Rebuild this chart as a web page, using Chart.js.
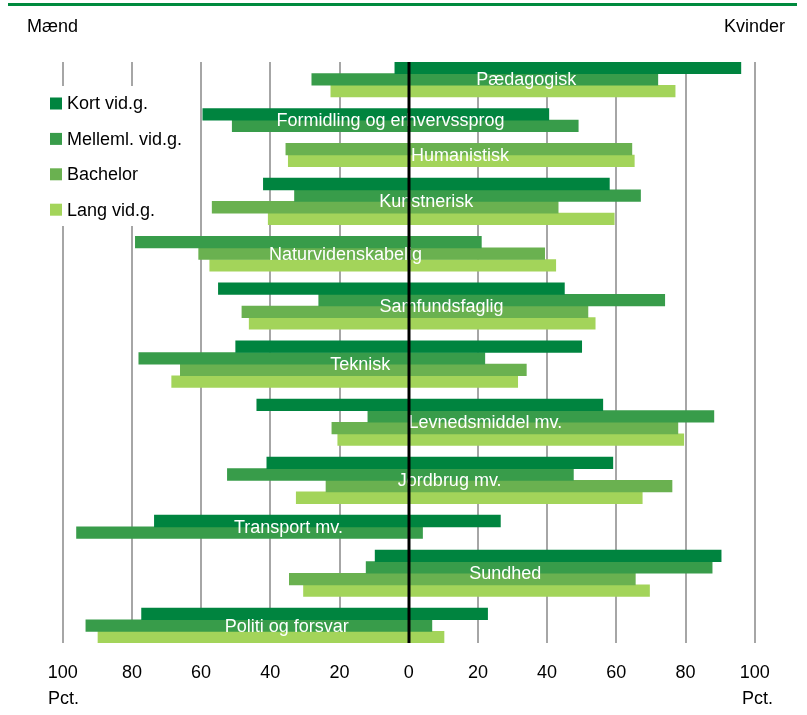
<!DOCTYPE html>
<html lang="da">
<head>
<meta charset="utf-8">
<title>Mænd og kvinder på uddannelsesområder</title>
<script src="https://cdn.jsdelivr.net/npm/chart.js@4.4.1/dist/chart.umd.min.js"></script>
<style>
  html, body { margin: 0; padding: 0; background: #fff; }
  #boks { position: relative; width: 807px; height: 715px; }
</style>
</head>
<body>
<div id="boks"><canvas id="koensChart"></canvas></div>
<script>
// Uddannelsesområder, oppefra og ned
const omraader = ['Pædagogisk', 'Formidling og erhvervssprog', 'Humanistisk', 'Kunstnerisk',
    'Naturvidenskabelig', 'Samfundsfaglig', 'Teknisk', 'Levnedsmiddel mv.', 'Jordbrug mv.',
    'Transport mv.', 'Sundhed', 'Politi og forsvar'];

const niveauer = ['Kort vid.g.', 'Melleml. vid.g.', 'Bachelor', 'Lang vid.g.'];
const farver = ['#00843f', '#389c4a', '#6ab150', '#a3d45a'];

// Andel mænd / kvinder i pct. (null = ingen uddannelse på det niveau)
const kortMaend     = [4, 59.5, null, 42, null, 55, 50, 43.9, 41, 73.5, 9.7, 77.2];
const kortKvinder   = [96, 40.5, null, 58, null, 45, 50, 56.1, 59, 26.5, 90.3, 22.8];
const mellemMaend   = [28, 51, null, 33, 79, 26, 78, 11.8, 52.4, 96, 12.3, 93.3];
const mellemKvinder = [72, 49, null, 67, 21, 74, 22, 88.2, 47.6, 4, 87.7, 6.7];
const bachMaend     = [null, null, 35.5, 56.8, 60.7, 48.2, 66, 22.2, 23.9, null, 34.5, null];
const bachKvinder   = [null, null, 64.5, 43.2, 39.3, 51.8, 34, 77.8, 76.1, null, 65.5, null];
const langMaend     = [22.5, null, 34.8, 40.6, 57.5, 46.1, 68.5, 20.5, 32.5, null, 30.4, 89.8];
const langKvinder   = [77, null, 65.2, 59.4, 42.5, 53.9, 31.5, 79.5, 67.5, null, 69.6, 10.2];

const maend = [kortMaend, mellemMaend, bachMaend, langMaend];
const kvinder = [kortKvinder, mellemKvinder, bachKvinder, langKvinder];

// én række pr. søjle, og en tom række mellem områderne
const raekker = [];
omraader.forEach((omr, i) => {
    niveauer.forEach((n, j) => {
        if (maend[j][i] != null) raekker.push({ omr: i, niveau: j });
    });
    if (i < omraader.length - 1) raekker.push({ omr: i, niveau: -1 });
});

const datasets = niveauer.map((n, j) => ({
    label: n,
    data: raekker.map(r => r.niveau === j ? [-maend[j][r.omr], kvinder[j][r.omr]] : null),
    backgroundColor: farver[j],
    borderWidth: 0,
    grouped: false,
    barPercentage: 1,
    categoryPercentage: 1
}));

const skrift = '"Liberation Sans", Arial, sans-serif';

// Tekster, nul-linje og forklaring tegnes oven på søjlerne
const pynt = {
    id: 'pynt',
    afterDatasetsDraw(chart) {
        const ctx = chart.ctx;
        const x = chart.scales.x, y = chart.scales.y;
        const area = chart.chartArea;
        ctx.save();

        // områdenavne midt i hver gruppe
        ctx.font = '18px ' + skrift;
        ctx.fillStyle = '#fff';
        ctx.textAlign = 'center';
        ctx.textBaseline = 'middle';
        omraader.forEach((omr, i) => {
            let lo = 0, hi = 0;
            const idx = [];
            raekker.forEach((r, k) => {
                if (r.omr === i && r.niveau >= 0) {
                    idx.push(k);
                    lo = Math.min(lo, -maend[r.niveau][i]);
                    hi = Math.max(hi, kvinder[r.niveau][i]);
                }
            });
            const cx = x.getPixelForValue((lo + hi) / 2);
            const cy = (y.getPixelForValue(idx[0]) + y.getPixelForValue(idx[idx.length - 1])) / 2;
            ctx.fillText(omr, cx, cy + 1);
        });

        // nul-linjen
        const x0 = Math.round(x.getPixelForValue(0));
        ctx.strokeStyle = '#000';
        ctx.lineWidth = 3;
        ctx.beginPath();
        ctx.moveTo(x0, area.top);
        ctx.lineTo(x0, area.bottom);
        ctx.stroke();

        // forklaring
        ctx.fillStyle = '#fff';
        ctx.fillRect(44, 86, 152, 140);
        ctx.textAlign = 'left';
        niveauer.forEach((n, j) => {
            const ly = 103.5 + j * 35.4;
            ctx.fillStyle = farver[j];
            ctx.fillRect(50, ly - 6, 12, 12);
            ctx.fillStyle = '#000';
            ctx.fillText(n, 67, ly + 1);
        });

        // overskrifter og enhed
        ctx.fillStyle = '#008a3e';
        ctx.fillRect(8, 3, 789, 3);
        ctx.fillStyle = '#000';
        ctx.fillText('Mænd', 27, 27);
        ctx.fillText('Pct.', 48, 699);
        ctx.textAlign = 'right';
        ctx.fillText('Kvinder', 785, 27);
        ctx.fillText('Pct.', 773, 699);
        ctx.restore();
    }
};

new Chart(document.getElementById('koensChart'), {
    type: 'bar',
    data: {
        labels: raekker.map((r, k) => String(k)),
        datasets: datasets
    },
    options: {
        indexAxis: 'y',
        responsive: true,
        maintainAspectRatio: false,
        animation: false,
        layout: { padding: { left: 62.7, right: 52.3, top: 62, bottom: 0 } },
        plugins: {
            legend: { display: false },
            tooltip: { enabled: false }
        },
        scales: {
            y: { display: false },
            x: {
                min: -100,
                max: 100,
                afterFit(scale) { scale.height = 72; },
                border: { display: false },
                grid: {
                    color: c => (c.tick && c.tick.value === 0) ? '#000' : '#a6a6a6',
                    lineWidth: 2,
                    drawTicks: false
                },
                ticks: {
                    stepSize: 20,
                    padding: 19,
                    color: '#000',
                    font: { family: skrift, size: 18 },
                    callback: v => Math.abs(v)
                }
            }
        }
    },
    plugins: [pynt]
});
</script>
</body>
</html>
